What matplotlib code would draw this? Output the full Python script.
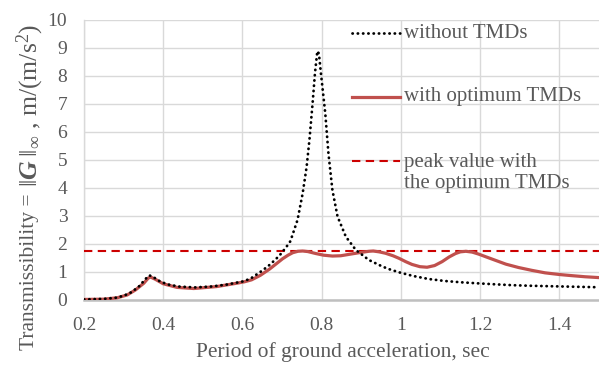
import matplotlib
matplotlib.use("Agg")
import matplotlib.pyplot as plt
from matplotlib.lines import Line2D

# ---- data ----
t_without = [0.20, 0.25, 0.28, 0.30, 0.32, 0.34, 0.355, 0.365, 0.375, 0.39, 0.41, 0.44,
             0.48, 0.52, 0.56, 0.60, 0.62, 0.65, 0.67, 0.693, 0.71, 0.721, 0.739, 0.752,
             0.762, 0.769, 0.777, 0.783, 0.789, 0.793, 0.798, 0.809, 0.817, 0.827, 0.840,
             0.861, 0.886, 0.919, 0.945, 0.966, 0.995, 1.03, 1.07, 1.11, 1.154, 1.20,
             1.238, 1.28, 1.322, 1.40, 1.45, 1.50]
v_without = [0.02, 0.04, 0.08, 0.15, 0.28, 0.50, 0.75, 0.88, 0.82, 0.68, 0.56, 0.48,
             0.45, 0.48, 0.55, 0.66, 0.76, 1.05, 1.27, 1.58, 1.88, 2.10, 2.86, 3.81,
             4.76, 5.71, 7.02, 8.10, 8.89, 8.80, 8.10, 6.67, 5.24, 3.93, 2.98,
             2.26, 1.79, 1.43, 1.25, 1.12, 0.99, 0.86, 0.75, 0.68, 0.63, 0.59,
             0.56, 0.53, 0.51, 0.485, 0.47, 0.455]

t_with = [0.20, 0.25, 0.284, 0.309, 0.33, 0.351, 0.362, 0.368, 0.38, 0.40, 0.435, 0.477,
          0.535, 0.586, 0.605, 0.623, 0.645, 0.668, 0.685, 0.701, 0.715, 0.727, 0.74,
          0.752, 0.765, 0.785, 0.805, 0.827, 0.848, 0.869, 0.895, 0.919, 0.93, 0.945,
          0.961, 0.98, 0.995, 1.012, 1.028, 1.048, 1.066, 1.085, 1.104, 1.122, 1.138,
          1.15, 1.164, 1.18, 1.196, 1.215, 1.238, 1.265, 1.297, 1.33, 1.364, 1.40,
          1.431, 1.465, 1.50]
v_with = [0.02, 0.03, 0.08, 0.18, 0.36, 0.60, 0.78, 0.82, 0.74, 0.58, 0.45, 0.41,
          0.48, 0.60, 0.65, 0.72, 0.88, 1.10, 1.29, 1.47, 1.60, 1.69, 1.74,
          1.75, 1.73, 1.66, 1.60, 1.57, 1.58, 1.63, 1.69, 1.74, 1.75, 1.72,
          1.67, 1.58, 1.49, 1.37, 1.27, 1.19, 1.17, 1.23, 1.37, 1.54, 1.66,
          1.72, 1.74, 1.71, 1.64, 1.54, 1.42, 1.28, 1.16, 1.06, 0.97, 0.91,
          0.87, 0.83, 0.80]

peak_value = 1.74

x_ticks = [0.2, 0.4, 0.6, 0.8, 1.0, 1.2, 1.4]
x_tick_labels = ["0.2", "0.4", "0.6", "0.8", "1", "1.2", "1.4"]
y_ticks = list(range(0, 11))

legend_labels = ["without TMDs", "with optimum TMDs", "peak value with\nthe optimum TMDs"]

# ---- style ----
plt.rcParams['font.family'] = ['Liberation Serif', 'DejaVu Serif']
plt.rcParams['mathtext.fontset'] = 'custom'
plt.rcParams['mathtext.rm'] = 'Liberation Serif'
plt.rcParams['mathtext.it'] = 'Liberation Serif:italic'
plt.rcParams['mathtext.bf'] = 'Liberation Serif:bold'
plt.rcParams['mathtext.bfit'] = 'Liberation Serif:italic:bold'

TXT = '#595959'
RED = '#c0504d'
DRED = '#cc0000'
DOT = (0, (0.1, 1.8))
DASH = (0, (4, 2.6))

W, H = 599, 369
fig = plt.figure(figsize=(W / 100, H / 100), dpi=100)
L, R, T, B = 84, 599, 20, 300
ax = fig.add_axes([L / W, 1 - B / H, (R - L) / W, (B - T) / H])

ax.set_xlim(0.2, 1.5)
ax.set_ylim(0, 10)
ax.set_xticks(x_ticks)
ax.set_xticklabels(x_tick_labels)
ax.set_yticks(y_ticks)
ax.grid(True, color='#d9d9d9', linewidth=1.0)
ax.set_axisbelow(True)
for s in ['top', 'right']:
    ax.spines[s].set_visible(False)
ax.spines['left'].set_color('#d9d9d9')
ax.spines['left'].set_linewidth(1.0)
ax.spines['bottom'].set_color('#bfbfbf')
ax.spines['bottom'].set_linewidth(1.8)
ax.tick_params(axis='both', length=0, labelsize=14, labelcolor=TXT)
ax.tick_params(axis='y', pad=12)
ax.tick_params(axis='x', pad=12)

ax.axhline(peak_value, color=DRED, linewidth=1.5, linestyle=DASH, zorder=3)
ax.plot(t_with, v_with, color=RED, linewidth=2.3, solid_capstyle='round',
        solid_joinstyle='round', zorder=4)
ax.plot(t_without, v_without, color='black', linewidth=2.0,
        linestyle=DOT, dash_capstyle='round', zorder=5)

# ---- legend (Excel-style, no frame) ----
def px(x, y):
    return x / W, 1 - y / H

leg_items = [
    (dict(color='black', linewidth=2.0, linestyle=DOT, dash_capstyle='round'), 33, 33),
    (dict(color=RED, linewidth=2.3), 97, 97),
    (dict(color=DRED, linewidth=1.5, linestyle=DASH), 161, 173),
]
for (style, yh, yt), lab in zip(leg_items, legend_labels):
    x0, y0 = px(352, yh)
    x1, _ = px(400, yh)
    fig.add_artist(Line2D([x0, x1], [y0, y0], transform=fig.transFigure, **style))
    tx, ty = px(404, yt)
    fig.text(tx, ty, lab, color=TXT, fontsize=15, ha='left', va='center',
             linespacing=1.2)

# ---- axis titles ----
fig.text(343 / W, 1 - 352 / H, 'Period of ground acceleration, sec', color=TXT,
         fontsize=15.5, ha='center', va='center')

t1 = fig.text(30 / W, 1 - 350 / H, 'Transmissibility = ', color=TXT, fontsize=15.5,
              rotation=90, ha='center', va='bottom')
fig.canvas.draw()
ext = t1.get_window_extent(renderer=fig.canvas.get_renderer())
top_px = ext.y1  # display coords (pixels from bottom)
fig.text(30 / W, (top_px + 1) / H,
         r'$\Vert\mathbfit{G}\;\Vert_{\infty}$ , m/(m/s$^2$)',
         color=TXT, fontsize=18.5, rotation=90, ha='center', va='bottom')

fig.savefig('out.png', dpi=100)
